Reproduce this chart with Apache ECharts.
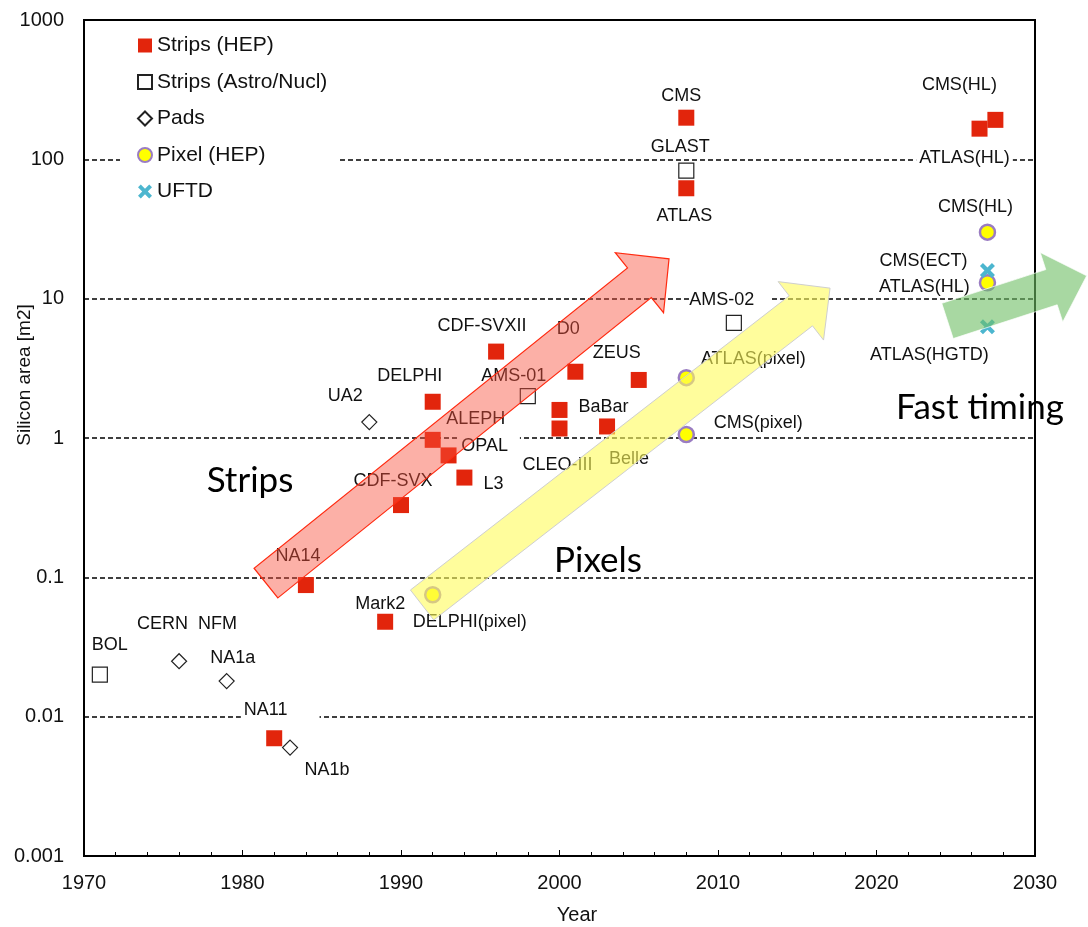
<!DOCTYPE html>
<html><head><meta charset="utf-8">
<script src="https://cdn.jsdelivr.net/npm/echarts@6/dist/echarts.min.js"></script>
<style>html,body{margin:0;padding:0;background:#fff;}#c{width:1088px;height:927px;}</style>
</head><body><div id="c"></div>
<script>
// ---- data ----
const seriesNames = ['Strips (HEP)', 'Strips (Astro/Nucl)', 'Pads', 'Pixel (HEP)', 'UFTD'];

const stripsHepNames = ['NA11','NA14','Mark2','CDF-SVX','DELPHI','ALEPH','OPAL','L3','CDF-SVXII','BaBar','CLEO-III','D0','Belle','ZEUS','CMS','ATLAS','ATLAS(HL)','CMS(HL)'];
const stripsHepYears = [1982,1984,1989,1990,1992,1992,1993,1994,1996,2000,2000,2001,2003,2005,2008,2008,2026.5,2027.5];
const stripsHepArea  = [0.007,0.088,0.048,0.33,1.82,0.97,0.75,0.52,4.17,1.59,1.17,2.99,1.21,2.61,199,62,166,192];

const astroNames = ['BOL','AMS-01','GLAST','AMS-02'];
const astroYears = [1971,1998,2008,2011];
const astroArea  = [0.02,2.0,83,6.7];

const padsNames = ['CERN  NFM','NA1a','NA1b','UA2'];
const padsYears = [1976,1979,1983,1988];
const padsArea  = [0.025,0.018,0.006,1.30];

const pixelNames = ['DELPHI(pixel)','ATLAS(pixel)','CMS(pixel)','CMS(HL)','ATLAS(HL)'];
const pixelYears = [1992,2008,2008,2027,2027];
const pixelArea  = [0.075,2.71,1.06,30,13.0];

const uftdNames = ['CMS(ECT)','ATLAS(HGTD)'];
const uftdYears = [2027,2027];
const uftdArea  = [15.9,6.3];

const xTickLabels = ['1970','1980','1990','2000','2010','2020','2030'];
const yTickLabels = ['0.001','0.01','0.1','1','10','100','1000'];

// ---- label placement (pixels, relative to the marker) ----
const labelOffsets = [
  {NA11:[6,-28],NA14:[-8,-29],Mark2:[-5,-18],'CDF-SVX':[-8,-24],DELPHI:[-23,-26],ALEPH:[43,-21],OPAL:[40,-9],L3:[29,6],
   'CDF-SVXII':[-14,-26],BaBar:[44,-3],'CLEO-III':[-2,37],D0:[-7,-43],Belle:[22,33],ZEUS:[-22,-27],CMS:[-5,-22],ATLAS:[-2,28],
   'ATLAS(HL)':[-15,29],'CMS(HL)':[-36,-35]},
  {BOL:[10,-30],'AMS-01':[-14,-20],GLAST:[-6,-24],'AMS-02':[-3.5,-23]},
  {'CERN  NFM':[8,-37],NA1a:[6,-23],NA1b:[37,22],UA2:[-24,-26]},
  {'DELPHI(pixel)':[37,27],'ATLAS(pixel)':[67,-19],'CMS(pixel)':[72,-11],'CMS(HL)':[-12,-25],'ATLAS(HL)':[-63,4]},
  {'CMS(ECT)':[-64,-10],'ATLAS(HGTD)':[-58,28]}
];
const labelPads = [{NA11:[0,32,0,3],OPAL:[5,12,0,4]},{'AMS-02':[0,17,0,0]},{},{},{}];

// ---- decorative arrows (data coords of tail centre and tip; pixel widths) ----
const arrowTails = [[1981.48,0.091],[1991.33,0.0633],[2024.48,6.92]];
const arrowTips  = [[2006.91,19.3],[2017.07,11.9],[2033.26,14.6]];
const arrowDims  = [[38,77,38],[38,74,37],[37,73,37]];
const arrowStyles = [
  {fill:'rgba(248,80,60,0.45)', stroke:'#ff2a10', lineWidth:1.2},
  {fill:'rgba(255,252,90,0.6)', stroke:'#cfcfcf', lineWidth:1},
  {fill:'rgba(110,190,100,0.6)', stroke:'rgba(255,255,255,0.7)', lineWidth:1}
];

const FONT = 'Liberation Sans';
function mk(names, years, vals, si) {
  return names.map((n, i) => {
    const o = {name: n, value: [years[i], vals[i]], label: {offset: labelOffsets[si][n] || [0,-20]}};
    if (labelPads[si][n]) o.label.padding = labelPads[si][n];
    return o;
  });
}
const baseLabel = {show: true, position: 'inside', formatter: '{b}', fontSize: 18, fontFamily: FONT,
  color: '#111', textBorderWidth: 0, textBorderColor: 'transparent', textShadowBlur: 0,
  backgroundColor: '#fff', padding: [0,3], align: 'center', verticalAlign: 'middle'};

const xPath = 'path://M0,2 L2,0 L5,3 L8,0 L10,2 L7,5 L10,8 L8,10 L5,7 L2,10 L0,8 L3,5 Z';

const chart = echarts.init(document.getElementById('c'), null, {renderer: 'canvas'});
const option = {
  animation: false,
  backgroundColor: '#fff',
  grid: {left: 84, right: 53, top: 20, bottom: 71, show: true, borderColor: '#000', borderWidth: 2, backgroundColor: 'transparent'},
  xAxis: {
    type: 'value', min: 1970, max: 2030, interval: 10,
    axisLine: {show: true, lineStyle: {color: '#000', width: 2}},
    axisTick: {show: true, inside: true, length: 6, lineStyle: {color: '#000', width: 1}},
    minorTick: {show: true, splitNumber: 5, length: 4, lineStyle: {color: '#000', width: 1}},
    splitLine: {show: false},
    axisLabel: {fontSize: 20, fontFamily: FONT, color: '#111', margin: 17,
      formatter: v => xTickLabels[Math.round((v - 1970) / 10)] || ''}
  },
  yAxis: {
    type: 'log', logBase: 10, min: 0.001, max: 1000, splitNumber: 6,
    axisLine: {show: true, lineStyle: {color: '#000', width: 2}},
    axisTick: {show: false},
    minorTick: {show: false},
    splitLine: {show: true, lineStyle: {color: '#000', width: 1.5, type: [5, 3]}},
    axisLabel: {fontSize: 20, fontFamily: FONT, color: '#111', margin: 20,
      formatter: v => yTickLabels[Math.round(Math.log10(v)) + 3] || ''}
  },
  legend: {
    data: seriesNames, orient: 'vertical', left: 120, top: 27, itemGap: 15.5,
    itemWidth: 14, itemHeight: 14, backgroundColor: '#fff', padding: [8, 10, 8, 17],
    selectedMode: false,
    textStyle: {fontSize: 21, fontFamily: FONT, color: '#111'}
  },
  series: [
    {name: seriesNames[0], type: 'scatter', symbol: 'rect', symbolSize: 16, z: 3,
      itemStyle: {color: '#e2250c', opacity: 1}, label: baseLabel,
      data: mk(stripsHepNames, stripsHepYears, stripsHepArea, 0)},
    {name: seriesNames[1], type: 'scatter', symbol: 'rect', symbolSize: 15, z: 3,
      itemStyle: {color: '#fff', borderColor: '#222', borderWidth: 1.2, opacity: 1}, label: baseLabel,
      data: mk(astroNames, astroYears, astroArea, 1)},
    {name: seriesNames[2], type: 'scatter', symbol: 'diamond', symbolSize: 15, z: 3,
      itemStyle: {color: '#fff', borderColor: '#222', borderWidth: 1.2, opacity: 1}, label: baseLabel,
      data: mk(padsNames, padsYears, padsArea, 2)},
    {name: seriesNames[3], type: 'scatter', symbol: 'circle', symbolSize: 15, z: 3,
      itemStyle: {color: '#ffff00', borderColor: '#9a7cc2', borderWidth: 2.5, opacity: 1}, label: baseLabel,
      data: mk(pixelNames, pixelYears, pixelArea, 3)},
    {name: seriesNames[4], type: 'scatter', symbol: xPath, symbolSize: 15, z: 3,
      itemStyle: {color: '#4cb6cf', opacity: 1}, label: baseLabel,
      data: mk(uftdNames, uftdYears, uftdArea, 4)},
    {name: 'arrows', type: 'custom', z: 6, silent: true, clip: false,
      encode: {x: [0, 2], y: [1, 3]},
      data: arrowTails.map((t, i) => [t[0], t[1], arrowTips[i][0], arrowTips[i][1]]),
      renderItem: function (params, api) {
        const i = params.dataIndex;
        const p0 = api.coord([api.value(0), api.value(1)]);
        const p1 = api.coord([api.value(2), api.value(3)]);
        const [w, hw, hl] = arrowDims[i];
        const dx = p1[0] - p0[0], dy = p1[1] - p0[1], L = Math.hypot(dx, dy);
        const ux = dx / L, uy = dy / L, nx = -uy, ny = ux;
        const bx = p1[0] - ux * hl, by = p1[1] - uy * hl;
        const pts = [
          [p0[0] + nx * w / 2, p0[1] + ny * w / 2],
          [bx + nx * w / 2, by + ny * w / 2],
          [bx + nx * hw / 2, by + ny * hw / 2],
          [p1[0], p1[1]],
          [bx - nx * hw / 2, by - ny * hw / 2],
          [bx - nx * w / 2, by - ny * w / 2],
          [p0[0] - nx * w / 2, p0[1] - ny * w / 2]
        ];
        return {type: 'polygon', shape: {points: pts}, style: arrowStyles[i]};
      }}
  ],
  graphic: [
    {type: 'text', x: 250, y: 481, z: 10, style: {text: 'Strips', fill: '#000', font: '35px Lato', align: 'center', verticalAlign: 'middle'}},
    {type: 'text', x: 598, y: 561, z: 10, style: {text: 'Pixels', fill: '#000', font: '35px Lato', align: 'center', verticalAlign: 'middle'}},
    {type: 'text', x: 980, y: 408, z: 10, style: {text: 'Fast timing', fill: '#000', font: '35px Lato', align: 'center', verticalAlign: 'middle'}},
    {type: 'text', x: 25, y: 375, rotation: Math.PI / 2, z: 10, style: {text: 'Silicon area [m2]', fill: '#111', font: '19px "Liberation Sans"', align: 'center', verticalAlign: 'middle'}},
    {type: 'text', x: 577, y: 915, z: 10, style: {text: 'Year', fill: '#111', font: '20px "Liberation Sans"', align: 'center', verticalAlign: 'middle'}}
  ]
};
chart.setOption(option);
</script>
</body></html>
